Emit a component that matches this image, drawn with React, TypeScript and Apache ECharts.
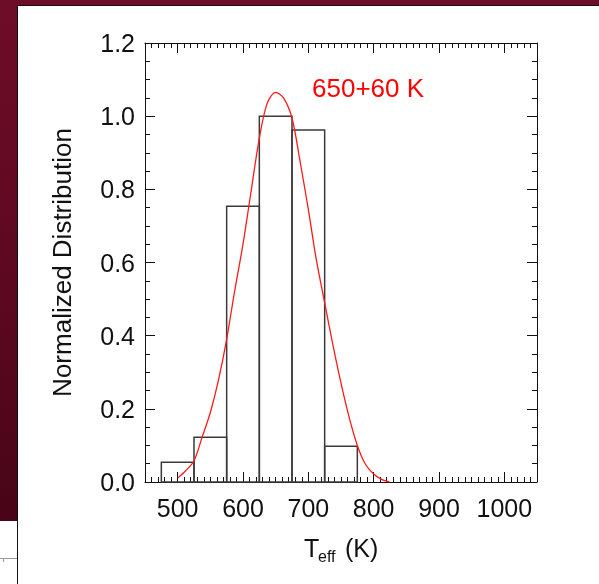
import React, { useEffect, useRef } from "react";
import * as echarts from "echarts";

// Histogram bins (centres, K) and normalized heights
const binCenters = [500, 550, 600, 650, 700, 750];
const binHeights = [0.054, 0.122, 0.754, 1.0, 0.962, 0.098];
const binWidth = 50;

// Red fitted curve
const fitX = [500, 512, 525, 537, 550, 562, 575, 587, 600, 612, 625, 637, 650, 662, 675, 687, 700, 712, 725, 737, 750, 762, 775, 787, 800, 812, 824];
const fitY = [0.011, 0.03, 0.058, 0.12, 0.19, 0.275, 0.39, 0.52, 0.65, 0.79, 0.94, 1.035, 1.065, 1.05, 0.995, 0.88, 0.745, 0.61, 0.49, 0.38, 0.27, 0.18, 0.1, 0.05, 0.022, 0.007, 0.0];

const xMajorTicks = [500, 600, 700, 800, 900, 1000];
const xMin = 450;
const xMax = 1050;
const yMin = 0;
const yMax = 1.2;
const yInterval = 0.2;
const fitLabel = "650+60 K";
const yName = "Normalized Distribution";

const FONT = "'Liberation Sans', Arial, Helvetica, sans-serif";

export default function App() {
  const ref = useRef<HTMLDivElement>(null);
  useEffect(() => {
    if (!ref.current) return;
    const chart = echarts.init(ref.current, undefined, { renderer: "svg" });
    const xMinorTicks: number[] = [];
    for (let v = xMin + 10; v < xMax; v += 10) {
      if (v % 100 !== 0) xMinorTicks.push(v);
    }
    const axisLine = { show: true, lineStyle: { color: "#111", width: 1 } };
    const baseX = { type: "value", min: xMin, max: xMax, splitLine: { show: false }, gridIndex: 0 };
    const baseY = {
      type: "value", min: yMin, max: yMax, interval: yInterval, splitLine: { show: false },
      axisLine,
      axisTick: { show: true, inside: true, length: 10, lineStyle: { color: "#111" } },
      minorTick: { show: true, splitNumber: 4, length: 5, lineStyle: { color: "#111" } },
    };
    const option: any = {
      animation: false,
      backgroundColor: "transparent",
      grid: { left: 145, top: 43, width: 392, height: 439, containLabel: false },
      xAxis: [
        {
          ...baseX, position: "bottom", axisLine,
          axisTick: { show: true, inside: true, length: 10, customValues: xMajorTicks, lineStyle: { color: "#111" } },
          axisLabel: {
            show: true, customValues: xMajorTicks, fontSize: 25, color: "#111", fontFamily: FONT, margin: 13,
            formatter: (v: number) => String(Math.round(v)),
          },
        },
        {
          ...baseX, position: "bottom", axisLine: { show: false },
          axisTick: { show: true, inside: true, length: 5, customValues: xMinorTicks, lineStyle: { color: "#111" } },
          axisLabel: { show: false },
        },
        {
          ...baseX, position: "top", axisLine,
          axisTick: { show: true, inside: true, length: 10, customValues: xMajorTicks, lineStyle: { color: "#111" } },
          axisLabel: { show: false },
        },
        {
          ...baseX, position: "top", axisLine: { show: false },
          axisTick: { show: true, inside: true, length: 5, customValues: xMinorTicks, lineStyle: { color: "#111" } },
          axisLabel: { show: false },
        },
      ],
      yAxis: [
        {
          ...baseY, position: "left",
          axisLabel: { show: true, fontSize: 25, color: "#111", fontFamily: FONT, margin: 10, formatter: (v: number) => v.toFixed(1) },
          name: yName, nameLocation: "middle", nameGap: 70, nameRotate: 90,
          nameTextStyle: { fontSize: 26, color: "#111", fontFamily: FONT },
        },
        {
          ...baseY, position: "right",
          axisLabel: { show: false },
        },
      ],
      graphic: [
        {
          type: "rect", z: -10, shape: { x: 0, y: 0, width: 599, height: 584 },
          style: {
            fill: new echarts.graphic.LinearGradient(0, 0, 0, 1, [
              { offset: 0, color: "#6e0d27" },
              { offset: 0.5, color: "#5c0820" },
              { offset: 1, color: "#420414" },
            ]),
          },
        },
        { type: "rect", z: -9, shape: { x: 0, y: 521, width: 18, height: 70 }, style: { fill: "#ffffff" } },
        { type: "line", z: -9, shape: { x1: 0, y1: 558.5, x2: 18, y2: 558.5 }, style: { stroke: "#9a9a9a", lineWidth: 1 } },
        { type: "line", z: -9, shape: { x1: 3.5, y1: 558, x2: 3.5, y2: 562 }, style: { stroke: "#9a9a9a", lineWidth: 1 } },
        { type: "rect", z: -8, shape: { x: 17.5, y: 5.5, width: 600, height: 600 }, style: { fill: "#ffffff", stroke: "#111", lineWidth: 1 } },
        {
          type: "text", z: 100, x: 312, y: 88,
          style: { text: fitLabel, fill: "#ff0000", fontSize: 26, fontFamily: FONT, verticalAlign: "middle", align: "left" },
        },
        {
          type: "text", z: 100, x: 304, y: 548,
          style: { text: "T", fill: "#111", fontSize: 25, fontFamily: FONT, verticalAlign: "middle", align: "left" },
        },
        {
          type: "text", z: 100, x: 318, y: 556,
          style: { text: "eff", fill: "#111", fontSize: 16, fontFamily: FONT, verticalAlign: "middle", align: "left" },
        },
        {
          type: "text", z: 100, x: 345, y: 548,
          style: { text: "(K)", fill: "#111", fontSize: 25, fontFamily: FONT, verticalAlign: "middle", align: "left" },
        },
      ],
      series: [
        {
          type: "custom",
          xAxisIndex: 0, yAxisIndex: 0,
          data: binCenters.map((c, i) => [c, binHeights[i]]),
          renderItem: (params: any, api: any) => {
            const c = api.value(0);
            const h = api.value(1);
            const p0 = api.coord([c - binWidth / 2, h]);
            const p1 = api.coord([c + binWidth / 2, 0]);
            return {
              type: "rect",
              shape: { x: p0[0], y: p0[1], width: p1[0] - p0[0], height: p1[1] - p0[1] },
              style: { fill: "none", stroke: "#3a3a3a", lineWidth: 1.5 },
            };
          },
          z: 3,
        },
        {
          type: "line",
          xAxisIndex: 0, yAxisIndex: 0,
          data: fitX.map((x, i) => [x, fitY[i]]),
          showSymbol: false,
          smooth: 0.3,
          lineStyle: { color: "#ff1a1a", width: 1.3 },
          z: 4,
        },
      ],
    };
    chart.setOption(option);
    return () => chart.dispose();
  }, []);
  return <div ref={ref} style={{ position: "fixed", left: 0, top: 0, width: 599, height: 584 }} />;
}
